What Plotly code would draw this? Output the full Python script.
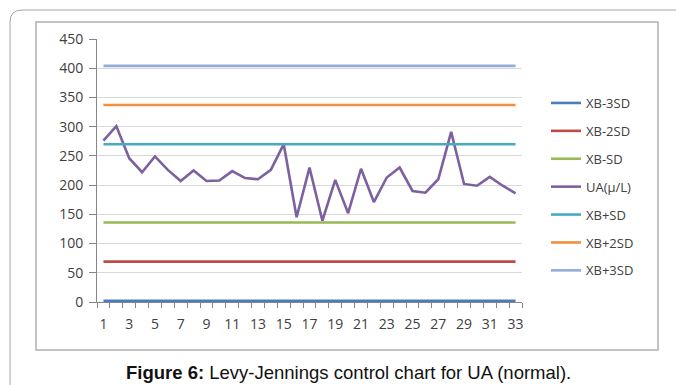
import plotly.graph_objects as go

W, H = 676, 385

runs = list(range(1, 34))
ua_values = [276, 301, 246, 222, 249, 226, 207, 225, 207, 208, 224, 212, 210, 226, 270,
             145, 230, 139, 209, 152, 228, 171, 213, 230, 190, 187, 210, 291, 202, 199,
             214, 199, 186]
limit_names = ["XB-3SD", "XB-2SD", "XB-SD", "XB+SD", "XB+2SD", "XB+3SD"]
limit_values = [2, 69, 136, 270, 337, 404]
series_colors = {
    "XB-3SD": "#4A7EBB",
    "XB-2SD": "#BE4B48",
    "XB-SD": "#98B954",
    "UA(μ/L)": "#7D60A0",
    "XB+SD": "#46AAC5",
    "XB+2SD": "#F38F3F",
    "XB+3SD": "#93ADD8",
}
legend_order = ["XB-3SD", "XB-2SD", "XB-SD", "UA(μ/L)", "XB+SD", "XB+2SD", "XB+3SD"]
x_tick_labels = [str(v) for v in range(1, 34, 2)]
y_ticks = list(range(0, 451, 50))

def px_x(p):
    return p / W

def px_y(p):
    return 1 - p / H

fig = go.Figure()
for i, name in enumerate(legend_order):
    if name == "UA(μ/L)":
        yv = ua_values
    else:
        yv = [limit_values[limit_names.index(name)]] * len(runs)
    fig.add_trace(go.Scatter(
        x=runs, y=yv, mode="lines", name=name, legendgroup=f"g{i}",
        line=dict(color=series_colors[name], width=2.6),
    ))

axis_color = "#868686"
tick_font = dict(family="Open Sans, Noto Sans, sans-serif", size=14, color="#404040")

fig.update_layout(
    width=W, height=H,
    autosize=False,
    margin=dict(l=0, r=0, t=0, b=0, pad=0, autoexpand=False),
    paper_bgcolor="white", plot_bgcolor="white",
    showlegend=True,
    legend=dict(
        x=px_x(546), y=px_y(88), xanchor="left", yanchor="top",
        font=dict(family="Open Sans, Noto Sans, sans-serif", size=13, color="#404040"),
        tracegroupgap=8, bgcolor="rgba(0,0,0,0)",
    ),
    xaxis=dict(
        domain=[px_x(97), px_x(522)], range=[0.5, 33.5], automargin=False,
        tickvals=list(range(1, 34, 2)), ticktext=x_tick_labels,
        ticks="", showgrid=False, zeroline=False, ticklabelstandoff=9,
        showline=True, linecolor=axis_color, linewidth=1,
        tickfont=tick_font,
        minor=dict(tick0=0.5, dtick=1, ticks="outside", ticklen=5, tickcolor=axis_color, showgrid=False),
    ),
    yaxis=dict(
        domain=[px_y(302), px_y(39)], range=[0, 450], automargin=False,
        tickvals=y_ticks, ticks="outside", ticklen=7, tickcolor=axis_color,
        ticklabelstandoff=3,
        showgrid=True, gridcolor="#D9D9D9", gridwidth=1, zeroline=False,
        showline=True, linecolor=axis_color, linewidth=1,
        tickfont=tick_font,
    ),
    shapes=[
        dict(type="path", xref="paper", yref="paper",
             path=f"M {px_x(10)},{px_y(390)} L {px_x(10)},{px_y(22)} Q {px_x(10)},{px_y(10)} {px_x(22)},{px_y(10)} L {px_x(680)},{px_y(10)}",
             line=dict(color="#A6A6A6", width=1)),
        dict(type="rect", xref="paper", yref="paper",
             x0=px_x(36), x1=px_x(658), y0=px_y(350), y1=px_y(22),
             line=dict(color="#B0B0B0", width=1.5)),
    ],
    annotations=[
        dict(xref="paper", yref="paper", x=px_x(348), y=px_y(372),
             xanchor="center", yanchor="middle", showarrow=False,
             text="<b>Figure 6:</b> Levy-Jennings control chart for UA (normal).",
             font=dict(family="Liberation Sans, Arial, sans-serif", size=18.5, color="#111111")),
    ],
)

fig.write_html(
    "out.html",
    config={"displayModeBar": False, "responsive": False},
    post_script="document.body.style.margin='0';document.body.style.overflow='hidden';",
)
